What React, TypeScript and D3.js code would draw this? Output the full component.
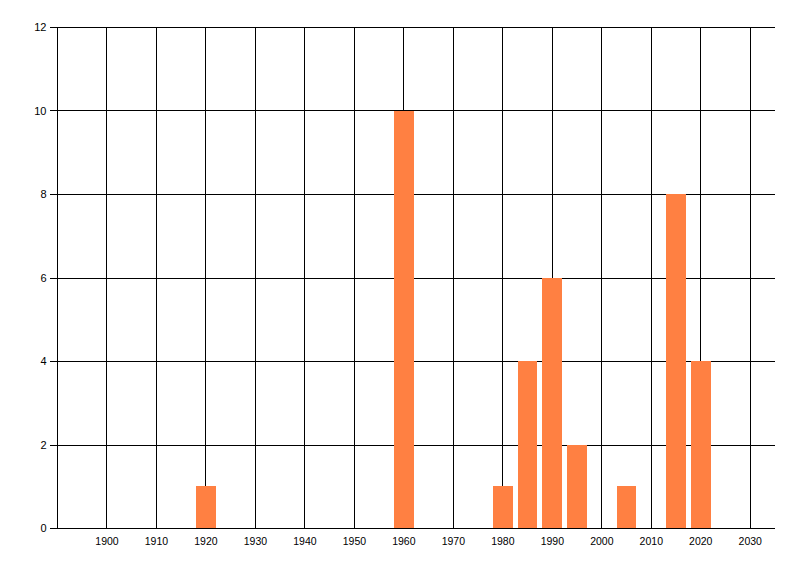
import React from 'react';
import * as d3 from 'd3';

// bar positions (year) and counts
const years = [1920, 1960, 1980, 1985, 1990, 1995, 2005, 2015, 2020];
const counts = [1, 10, 1, 4, 6, 2, 1, 8, 4];
const xTicks = [1900, 1910, 1920, 1930, 1940, 1950, 1960, 1970, 1980, 1990, 2000, 2010, 2020, 2030];
const yTicks = [0, 2, 4, 6, 8, 10, 12];

const width = 800;
const height = 576;
const plot = { left: 57.5, right: 775, top: 27.5, bottom: 528.5 };
const barYears = 4;
const barColor = '#ff8042';
const font = '"Liberation Sans", Arial, sans-serif';

const App: React.FC = () => {
  const x = d3.scaleLinear().domain([1890, 2035]).range([plot.left, plot.right]);
  const y = d3.scaleLinear().domain([0, 12]).range([plot.bottom, plot.top]);
  const snap = (v: number) => Math.round(v - 0.5) + 0.5;

  return (
    <svg
      width={width}
      height={height}
      style={{ position: 'absolute', left: 0, top: 0, background: '#fff' }}
    >
      {/* vertical grid */}
      {xTicks.map(t => (
        <line
          key={'vx' + t}
          x1={snap(x(t))}
          x2={snap(x(t))}
          y1={plot.top}
          y2={plot.bottom}
          stroke="#000"
          strokeWidth={1}
          shapeRendering="crispEdges"
        />
      ))}

      {/* horizontal grid + left ticks */}
      {yTicks.map(t => (
        <line
          key={'hy' + t}
          x1={plot.left - 8}
          x2={plot.right}
          y1={snap(y(t))}
          y2={snap(y(t))}
          stroke="#000"
          strokeWidth={1}
          shapeRendering="crispEdges"
        />
      ))}

      {/* bars drawn over the grid */}
      {years.map((yr, i) => (
        <rect
          key={yr}
          x={x(yr - barYears / 2)}
          y={y(counts[i]) - 0.5}
          width={x(yr + barYears / 2) - x(yr - barYears / 2)}
          height={y(0) - y(counts[i])}
          fill={barColor}
          shapeRendering="crispEdges"
        />
      ))}

      {/* axis lines on top */}
      <line
        x1={plot.left - 8}
        x2={plot.right}
        y1={snap(y(0))}
        y2={snap(y(0))}
        stroke="#000"
        shapeRendering="crispEdges"
      />
      <line
        x1={plot.left}
        x2={plot.left}
        y1={plot.top}
        y2={plot.bottom}
        stroke="#000"
        shapeRendering="crispEdges"
      />

      {/* y labels */}
      {yTicks.map(t => (
        <text
          key={'ly' + t}
          x={plot.left - 11}
          y={y(t)}
          dy="0.35em"
          textAnchor="end"
          fontFamily={font}
          fontSize={11}
          fill="#000"
        >
          {t}
        </text>
      ))}

      {/* x labels */}
      {xTicks.map(t => (
        <text
          key={'lx' + t}
          x={x(t)}
          y={545}
          textAnchor="middle"
          fontFamily={font}
          fontSize={10.5}
          fill="#000"
        >
          {t}
        </text>
      ))}
    </svg>
  );
};

export default App;
